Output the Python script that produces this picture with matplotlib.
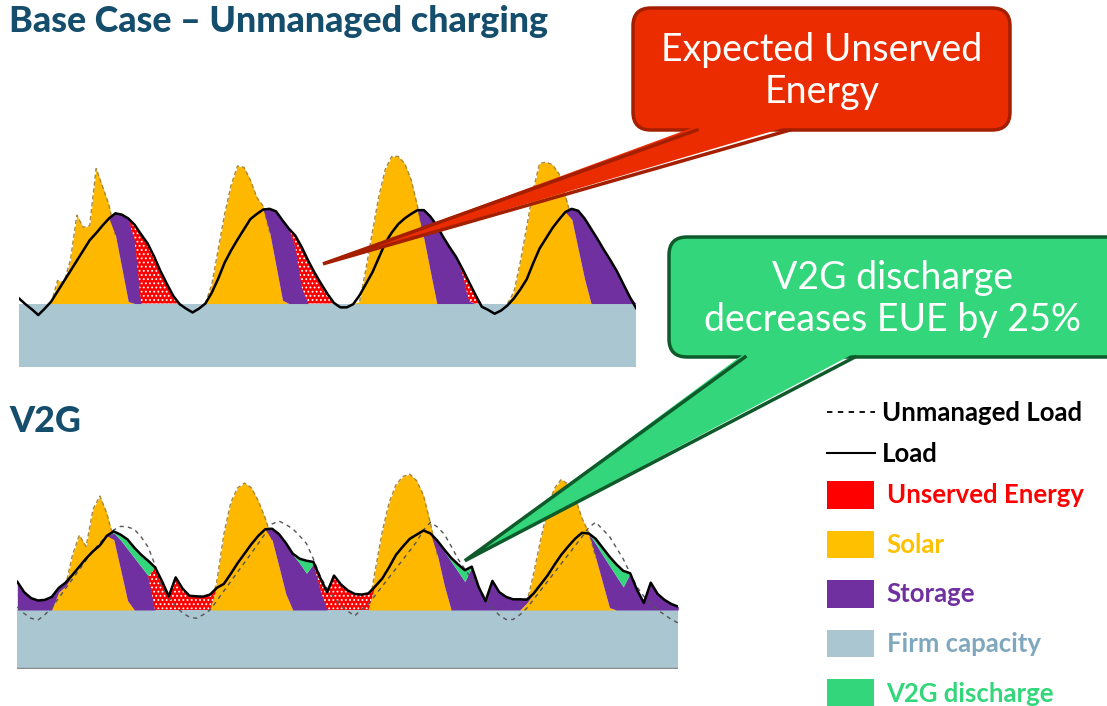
import numpy as np
import matplotlib
matplotlib.use("Agg")
import matplotlib.pyplot as plt
from matplotlib.patches import FancyBboxPatch, Polygon, Patch
from matplotlib.lines import Line2D

# ---- data (hourly, 4 days; values in GW-like units, firm capacity = 10) ----
hours = np.arange(97)
FIRM = 10

# base case - unmanaged charging
load_base = [10.8, 9.9, 9.1, 8.2, 9.2, 10.3, 11.9, 13.5, 15.1, 16.7, 18.3, 19.9, 21.0, 22.2, 23.3, 24.1,
             23.9, 23.3, 22.3, 20.8, 19.4, 17.4, 15.1, 13.1, 11.2, 9.9, 9.2, 8.6, 9.2, 10.0, 11.7, 13.9,
             16.4, 18.3, 20.0, 21.6, 23.2, 24.0, 24.7, 24.8, 24.4, 23.0, 21.7, 20.6, 18.8, 16.7, 14.8, 13.1,
             11.5, 10.1, 9.4, 9.4, 9.9, 11.3, 13.1, 14.9, 17.2, 19.5, 21.1, 22.4, 23.3, 24.0, 24.6, 24.6,
             23.6, 22.2, 20.4, 18.8, 17.3, 15.4, 13.4, 11.4, 9.5, 9.0, 8.4, 8.9, 9.7, 10.8, 12.2, 13.8,
             16.3, 18.6, 20.2, 21.8, 23.1, 24.3, 24.8, 24.5, 23.3, 21.7, 20.1, 18.4, 16.8, 15.1, 13.1, 11.1, 9.3]
solar_base = [0, 0, 0, 0, 0, 0, 3.6, 3.3, 6.8, 13.8, 11.9, 12.2, 21.1, 18.3, 15.4, 10.7,
              5.5, 0.3, 0, 0, 0, 0, 0, 0, 0, 0, 0, 0, 0, 0, 3.0, 8.5,
              14.0, 18.5, 21.5, 21.3, 19.3, 16.6, 15.2, 11.1, 5.8, 0.5, 0, 0, 0, 0, 0, 0,
              0, 0, 0, 0, 0, 0.3, 5.5, 11.3, 16.8, 21.0, 23.0, 23.0, 21.9, 19.4, 15.2, 10.1,
              5.0, 0, 0, 0, 0, 0, 0, 0, 0, 0, 0, 0, 0, 1.8, 6.5, 12.0,
              17.7, 21.9, 22.1, 21.7, 20.3, 16.9, 13.2, 8.5, 3.8, 0, 0, 0, 0, 0, 0, 0, 0]
storage_base = [0, 0, 0, 0, 0, 0, 0, 0, 0, 0, 0, 0, 0, 0, 0, 3.4,
                8.4, 13.0, 9.9, 0, 0, 0, 0, 0, 0, 0, 0, 0, 0, 0, 0, 0,
                0, 0, 0, 0, 0, 0, 0, 3.7, 8.6, 12.5, 11.7, 8.8, 2.5, 0, 0, 0,
                0, 0, 0, 0, 0, 0, 0, 0, 0, 0, 0, 0, 0, 0, 0, 4.5,
                8.6, 12.2, 10.4, 8.8, 7.3, 4.6, 0.4, 0, 0, 0, 0, 0, 0, 0, 0, 0,
                0, 0, 0, 0, 0, 0, 1.6, 6.0, 9.5, 11.7, 10.1, 8.4, 6.8, 5.1, 3.1, 1.1, 0]
unserved_base = [0, 0, 0, 0, 0, 0, 0, 0, 0, 0, 0, 0, 0, 0, 0, 0,
                 0, 0, 2.4, 10.8, 9.4, 7.4, 5.1, 3.1, 1.2, 0, 0, 0, 0, 0, 0, 0,
                 0, 0, 0, 0, 0, 0, 0, 0, 0, 0, 0, 1.8, 6.3, 6.7, 4.8, 3.1,
                 1.5, 0, 0, 0, 0, 0, 0, 0, 0, 0, 0, 0, 0, 0, 0, 0,
                 0, 0, 0, 0, 0, 0.8, 3.0, 1.4, 0, 0, 0, 0, 0, 0, 0, 0,
                 0, 0, 0, 0, 0, 0, 0, 0, 0, 0, 0, 0, 0, 0, 0, 0, 0]

# V2G case
load_v2g = [14.75, 13.0, 12.0, 11.6, 11.7, 12.2, 13.7, 14.6, 15.9, 17.3, 18.7, 19.9, 20.9, 22.5, 23.25, 22.7,
            21.9, 20.5, 19.3, 18.3, 17.2, 14.9, 12.3, 15.5, 13.6, 12.4, 12.3, 12.25, 12.6, 13.75, 14.4, 16.1,
            17.9, 19.5, 21.1, 22.5, 23.6, 23.7, 22.8, 21.3, 19.5, 18.65, 18.3, 18.1, 15.4, 13.0, 15.8, 14.3,
            13.3, 12.7, 12.6, 12.8, 14.0, 15.3, 17.2, 19.3, 20.7, 22.0, 22.7, 23.4, 22.9, 21.7, 20.2, 18.8,
            17.7, 16.7, 17.3, 13.9, 11.5, 14.9, 13.0, 12.2, 11.8, 11.8, 11.75, 12.8, 14.3, 15.8, 17.6, 19.3,
            20.7, 22.0, 23.0, 22.9, 22.0, 20.5, 19.0, 17.7, 16.6, 16.2, 13.4, 11.2, 14.6, 12.7, 11.7, 11.0, 10.55]
unmanaged_v2g = [10.5, 9.4, 8.6, 8.3, 9.2, 10.4, 12.0, 13.6, 15.2, 16.8, 18.4, 20.0, 21.3, 22.5, 23.5, 24.1,
                 24.0, 23.6, 22.3, 20.6, 17.6, 13.9, 12.2, 10.6, 9.5, 8.8, 8.6, 9.2, 10.0, 11.6, 13.2, 14.8,
                 16.4, 18.0, 19.6, 21.2, 22.9, 24.5, 25.0, 24.4, 23.7, 22.5, 21.2, 18.6, 15.7, 13.6, 12.1, 10.8,
                 9.8, 9.0, 10.1, 11.0, 12.5, 14.0, 15.5, 17.0, 18.5, 20.0, 21.5, 23.5, 24.8, 24.0, 22.8, 20.8,
                 18.6, 16.9, 15.2, 13.6, 12.0, 10.4, 9.1, 8.4, 8.4, 9.2, 10.3, 11.8, 13.3, 14.8, 16.3, 17.8,
                 19.3, 20.8, 22.3, 23.9, 24.8, 23.6, 22.4, 20.5, 18.6, 16.2, 13.9, 12.3, 11.0, 10.0, 9.2, 8.4, 7.8]
solar_v2g = [0, 0, 0, 0, 0, 0, 3.0, 4.0, 9.2, 12.6, 10.7, 17.0, 19.2, 16.3, 11.9, 6.8,
             1.6, 0, 0, 0, 0, 0, 0, 0, 0, 0, 0, 0, 0, 5.0, 12.8, 18.1,
             20.6, 21.4, 20.6, 18.4, 15.5, 11.8, 7.3, 2.7, 0, 0, 0, 0, 0, 0, 0, 0,
             0, 0, 0, 0, 6.8, 13.2, 18.1, 21.1, 22.5, 22.9, 21.8, 19.3, 14.6, 9.3, 4.2, 0,
             0, 0, 0, 0, 0, 0, 0, 0, 0, 0, 1.2, 6.2, 11.8, 17.0, 20.5, 22.0,
             21.2, 19.0, 15.5, 13.0, 8.8, 4.6, 0.4, 0, 0, 0, 0, 0, 0, 0, 0, 0, 0]
storage_v2g = [4.75, 3.0, 2.0, 1.6, 1.7, 2.2, 0.7, 0.6, 0, 0, 0, 0, 0, 0, 1.1, 5.0,
               8.7, 8.8, 7.3, 5.8, 0, 0, 0, 0, 0, 0, 0, 0, 0, 0, 0, 0,
               0, 0, 0, 0, 0, 1.9, 5.5, 8.4, 9.3, 7.9, 6.2, 7.8, 3.5, 0, 0, 0,
               0, 0, 0, 0, 0, 0, 0, 0, 0, 0, 0, 0, 0, 2.3, 5.7, 8.2,
               6.5, 4.8, 7.3, 3.9, 1.5, 4.9, 3.0, 2.2, 1.8, 1.8, 0.55, 0, 0, 0, 0, 0,
               0, 0, 0, 0, 2.35, 4.7, 7.1, 5.7, 3.9, 6.2, 3.4, 1.2, 4.6, 2.7, 1.7, 1.0, 0.55]
unserved_v2g = [0, 0, 0, 0, 0, 0, 0, 0, 0, 0, 0, 0, 0, 0, 0, 0,
                0, 0, 0, 0, 7.2, 4.9, 2.3, 5.5, 3.6, 2.4, 2.3, 2.25, 2.6, 0, 0, 0,
                0, 0, 0, 0, 0, 0, 0, 0, 0, 0, 0, 0, 1.9, 3.0, 5.8, 4.3,
                3.3, 2.7, 2.6, 2.8, 0, 0, 0, 0, 0, 0, 0, 0, 0, 0, 0, 0,
                0, 0, 0, 0, 0, 0, 0, 0, 0, 0, 0, 0, 0, 0, 0, 0,
                0, 0, 0, 0, 0, 0, 0, 0, 0, 0, 0, 0, 0, 0, 0, 0, 0]
v2g_discharge = [0, 0, 0, 0, 0, 0, 0, 0, 0, 0, 0, 0, 0, 0, 0.25, 0.9,
                 1.6, 1.7, 2.0, 2.5, 0, 0, 0, 0, 0, 0, 0, 0, 0, 0, 0, 0,
                 0, 0, 0, 0, 0, 0, 0, 0.2, 0.2, 0.75, 2.1, 0.3, 0, 0, 0, 0,
                 0, 0, 0, 0, 0, 0, 0, 0, 0, 0, 0, 0, 0, 0.1, 0.3, 0.6,
                 1.2, 1.9, 0, 0, 0, 0, 0, 0, 0, 0, 0, 0, 0, 0, 0, 0,
                 0, 0, 0, 0, 0.85, 1.2, 1.5, 2.0, 2.7, 0, 0, 0, 0, 0, 0, 0, 0]

line_labels = ["Unmanaged Load", "Load"]
patch_labels = ["Unserved Energy", "Solar", "Storage", "Firm capacity", "V2G discharge"]

# ---- colours ----
C_FIRM = "#AAC6D1"
C_SOLAR = "#FFB800"
C_STORAGE = "#7030A0"
C_RED = "#FF0000"
C_V2G = "#33D67A"
C_TITLE = "#144E6C"

plt.rcParams["font.family"] = ["Lato", "DejaVu Sans"]
plt.rcParams["hatch.color"] = "white"
plt.rcParams["hatch.linewidth"] = 0.8

W, H = 1107, 706
fig = plt.figure(figsize=(W / 100, H / 100), dpi=100)


def px_axes(x0, y0, x1, y1):
    return fig.add_axes([x0 / W, 1 - y1 / H, (x1 - x0) / W, (y1 - y0) / H])


def draw_panel(ax, load, solar, storage, unserved, v2g=None, unmanaged=None, ytop=34):
    load = np.array(load, float)
    solar = np.array(solar, float)
    above = np.clip(load - FIRM, 0, None)
    served = np.minimum(solar, above)
    c1 = FIRM + served
    c2 = c1 + np.array(storage, float)
    c3 = c2 + np.array(unserved, float)

    ax.fill_between(hours, 0, FIRM, color=C_FIRM, lw=0, zorder=1)
    ax.fill_between(hours, FIRM, FIRM + solar, color=C_SOLAR, lw=0, zorder=2)
    # dashed edge of the solar profile where it sticks out above the load
    over = (solar > 0) & (FIRM + solar > load)
    keep = over | np.roll(over, 1) | np.roll(over, -1)
    edge = np.where(keep, FIRM + solar, np.nan)
    ax.plot(hours, edge, color="#A8873A", lw=1.0, ls=(0, (3, 2)), zorder=2.5)

    ax.fill_between(hours, c1, c2, color=C_STORAGE, lw=0, zorder=3)
    ax.fill_between(hours, c2, c3, facecolor=C_RED, edgecolor="none", hatch="....",
                    lw=0, zorder=3)
    if v2g is not None:
        c4 = c3 + np.array(v2g, float)
        ax.fill_between(hours, c3, c4, color=C_V2G, lw=0, zorder=3)
    if unmanaged is not None:
        ax.plot(hours, unmanaged, color="#555555", lw=1.0, ls=(0, (3, 3)), zorder=4)
    ax.plot(hours, load, color="black", lw=1.8, zorder=5)

    ax.set_xlim(0, 96)
    ax.set_ylim(0, ytop)
    ax.axis("off")


ax_top = px_axes(19, 150, 636, 367.5)
draw_panel(ax_top, load_base, solar_base, storage_base, unserved_base, ytop=34)

ax_bot = px_axes(17.3, 470, 678.3, 669.3)
draw_panel(ax_bot, load_v2g, solar_v2g, storage_v2g, unserved_v2g,
           v2g=v2g_discharge, unmanaged=unmanaged_v2g, ytop=33.6)
ax_bot.axhline(0, color="#8C8C8C", lw=2.5, zorder=6)

# ---- overlay in pixel coordinates for titles and callouts ----
ov = fig.add_axes([0, 0, 1, 1], zorder=10)
ov.set_xlim(0, W)
ov.set_ylim(H, 0)
ov.axis("off")

ov.text(9, 22, "Base Case \u2013 Unmanaged charging", fontsize=25.8, fontweight="black",
        color=C_TITLE, va="center", ha="left")
ov.text(9, 421, "V2G", fontsize=25.8, fontweight="black", color=C_TITLE, va="center", ha="left")


def to_ov(ax, x, y):
    return ov.transData.inverted().transform(ax.transData.transform((x, y)))


def callout(box, base_l, base_r, tip, face, edge, text, fs, cx):
    x0, y0, x1, y1 = box
    ov.add_patch(FancyBboxPatch((x0, y0), x1 - x0, y1 - y0,
                                boxstyle="round,pad=0,rounding_size=18",
                                facecolor=face, edgecolor=edge, lw=2.5, zorder=1,
                                clip_on=False))
    ov.add_patch(Polygon([(base_l, y1 - 4), tuple(tip), (base_r, y1 - 4)],
                         closed=True, facecolor=face, edgecolor="none", zorder=2))
    ov.plot([base_l, tip[0], base_r], [y1, tip[1], y1], color=edge, lw=2.5,
            solid_joinstyle="miter", zorder=3)
    ov.text(cx, (y0 + y1) / 2 + 2, text, color="white", fontsize=fs,
            ha="center", va="center", linespacing=1.2, zorder=4)


red_tip = to_ov(ax_top, 47.3, 16.2)
callout((633, 8, 1010, 130), 697, 790, red_tip, "#EA2C00", "#A41E00",
        "Expected Unserved\nEnergy", 27, 822)

green_tip = to_ov(ax_bot, 65.0, 18.3)
callout((669, 237, 1125, 357), 745, 855, green_tip, "#33D67A", "#0E5A2A",
        "V2G discharge\ndecreases EUE by 25%", 27, 893)

# ---- legend (lines and patches in two blocks, like the original) ----
leg_font = {"weight": "bold", "size": 18.5}
line_handles = [
    Line2D([], [], color="black", lw=1.3, ls=(0, (3, 3))),
    Line2D([], [], color="black", lw=1.5),
]
fig.legend(line_handles, line_labels, loc="upper left",
           bbox_to_anchor=(827 / W, 1 - 401 / H), frameon=False, prop=leg_font,
           labelcolor=["black", "black"], handlelength=1.85, handletextpad=0.3,
           labelspacing=0.66, borderpad=0, borderaxespad=0)
patch_handles = [Patch(facecolor=c) for c in [C_RED, "#FFC000", C_STORAGE, C_FIRM, C_V2G]]
fig.legend(patch_handles, patch_labels, loc="upper left",
           bbox_to_anchor=(827 / W, 1 - 481 / H), frameon=False, prop=leg_font,
           labelcolor=[C_RED, "#FFC000", C_STORAGE, "#7FA7BD", C_V2G],
           handlelength=1.82, handleheight=1.28, handletextpad=0.5, labelspacing=0.85,
           borderpad=0, borderaxespad=0)

fig.savefig("out.png", dpi=100, facecolor="white")
